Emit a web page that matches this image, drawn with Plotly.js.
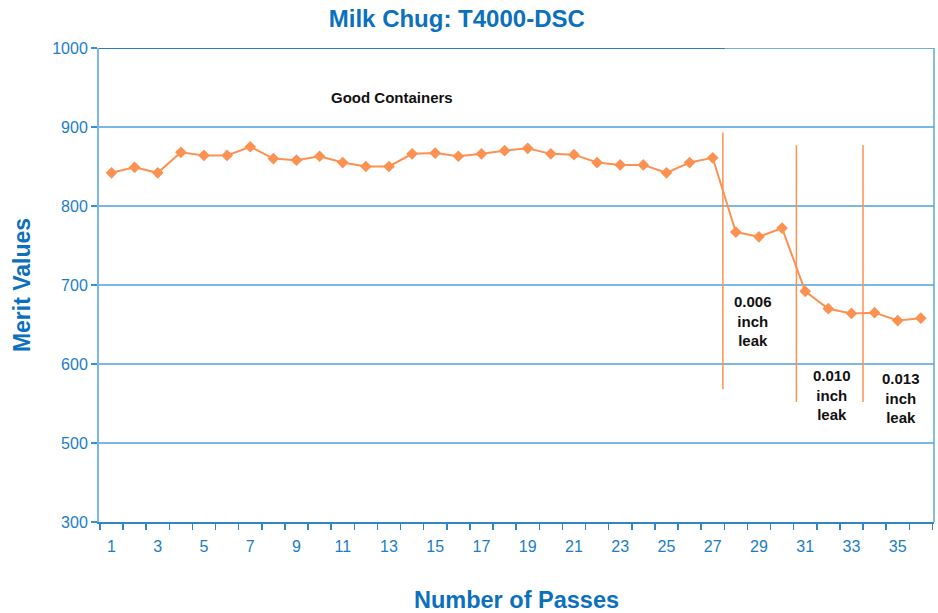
<!DOCTYPE html>
<html>
<head>
<meta charset="utf-8">
<script src="https://cdn.plot.ly/plotly-3.0.1.min.js"></script>
<style>html,body{margin:0;padding:0;background:#fff;}#chart{width:938px;height:613px;}</style>
</head>
<body>
<div id="chart"></div>
<script>
// Data
var passes = [1,2,3,4,5,6,7,8,9,10,11,12,13,14,15,16,17,18,19,20,21,22,23,24,25,26,27,28,29,30,31,32,33,34,35,36];
var meritValues = [842,849,842,868,864,864,875,860,858,863,855,850,850,866,867,863,866,870,873,866,865,855,852,852,842,855,861,767,761,772,692,670,664,665,655,658];
var xTickVals = [1,3,5,7,9,11,13,15,17,19,21,23,25,27,29,31,33,35];
var yTickVals = [400,500,600,700,800,900,1000];
var yTickText = ["300","500","600","700","800","900","1000"];
var leakLineX = [27.44, 30.62, 33.5];
var leakLineTop = [893, 877, 877];
var leakLineBottom = [568, 552, 552];
var leakLabels = ["0.006<br>inch<br>leak", "0.010<br>inch<br>leak", "0.013<br>inch<br>leak"];
var leakLabelX = [28.75, 32.17, 35.16];
var leakLabelY = [655, 561, 557];

var blue = "#1276c1";
var orange = "#fd9152";

var shapes = [];
shapes.push({type:'line', xref:'paper', yref:'y', x0:0, x1:1, y0:800, y1:800, line:{color:'#1e6fb6', width:1.5}, layer:'below'});
shapes.push({type:'line', xref:'paper', yref:'y', x0:0, x1:0.75, y0:1000, y1:1000, line:{color:'#2a7dc2', width:2}});
shapes.push({type:'line', xref:'paper', yref:'y', x0:0.75, x1:1, y0:1000, y1:1000, line:{color:'#6fb0e0', width:2}});
shapes.push({type:'line', xref:'paper', yref:'paper', x0:1, x1:1, y0:0, y1:1, line:{color:'#5fa6dc', width:1.5}});
for (var i = 0; i < leakLineX.length; i++) {
  shapes.push({type:'line', xref:'x', yref:'y', x0:leakLineX[i], x1:leakLineX[i], y0:leakLineBottom[i], y1:leakLineTop[i], line:{color:orange, width:1.5}});
}

var annotations = [{
  x: 13.12, y: 937, xref:'x', yref:'y', text:'Good Containers', showarrow:false,
  font:{family:'Liberation Sans, Arial, sans-serif', size:15, color:'#111', weight:'bold'}
}];
for (var j = 0; j < leakLabels.length; j++) {
  annotations.push({x: leakLabelX[j], y: leakLabelY[j], xref:'x', yref:'y', text: leakLabels[j], showarrow:false,
    font:{family:'Liberation Sans, Arial, sans-serif', size:15, color:'#111', weight:'bold'}});
}

var trace = {
  x: passes, y: meritValues, type:'scatter', mode:'lines+markers',
  line:{color:orange, width:2},
  marker:{symbol:'diamond', size:9, color:orange},
  showlegend:false, hoverinfo:'x+y'
};

var layout = {
  width:938, height:613,
  margin:{l:99, r:4, t:48, b:91},
  paper_bgcolor:'#fff', plot_bgcolor:'#fff',
  font:{family:'Liberation Sans, Arial, sans-serif', color:blue},
  title:{text:'<b>Milk Chug: T4000-DSC</b>', x:0.487, xref:'container', xanchor:'center', y:0.969, yref:'container', yanchor:'middle',
    font:{family:'Liberation Sans, Arial, sans-serif', size:24, color:'#0b70bd'}},
  xaxis:{
    range:[0.46, 36.57], tickvals:xTickVals, ticks:'outside', ticklen:9, tickcolor:'rgba(0,0,0,0)',
    tickfont:{size:16, color:'#1a7dc8'},
    showgrid:false, zeroline:false,
    showline:true, linecolor:'#2f86c9', linewidth:2,
    minor:{tick0:0.5, dtick:1, ticks:'outside', ticklen:6, tickcolor:'#2f86c9', tickwidth:1.5, showgrid:false},
    title:{text:'<b>Number of Passes</b>', standoff:37, font:{size:23.5, color:'#0b70bd'}},
    automargin:false, fixedrange:true
  },
  yaxis:{
    range:[400, 1000], tickvals:yTickVals, ticktext:yTickText, ticks:'outside', ticklen:6, tickcolor:'#3b8fcf', tickwidth:1.5,
    tickfont:{size:16, color:'#1a7dc8'},
    showgrid:true, gridcolor:'#7ab8e4', gridwidth:1.5, zeroline:false,
    showline:true, linecolor:'#7ab8e4', linewidth:2,
    title:{text:'<b>Merit Values</b>', standoff:15, font:{size:23, color:'#0b70bd'}},
    automargin:false, fixedrange:true
  },
  shapes:shapes,
  annotations:annotations
};

Plotly.newPlot('chart', [trace], layout, {displayModeBar:false, staticPlot:true});
</script>
</body>
</html>
